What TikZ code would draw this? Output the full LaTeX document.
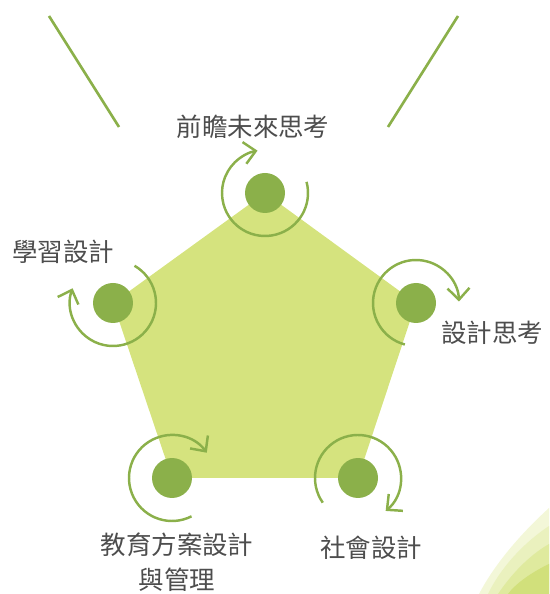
\documentclass[tikz,border=0pt]{standalone}
\usepackage{fontspec}
\newfontfamily\cjk{Noto Sans CJK TC}
\usetikzlibrary{arrows.meta, calc, positioning}

\definecolor{lime}{HTML}{D5E37E}
\definecolor{leaf}{HTML}{8BB04A}
\definecolor{txtgray}{HTML}{4D4D4D}

\begin{document}
\begin{tikzpicture}[x=0.02cm, y=0.02cm,
   dot/.style = {circle, fill=leaf, minimum size=0.8cm, inner sep=0pt},
   cyc/.style = {draw=leaf, line width=1.4pt, -{Straight Barb[length=2.3mm, width=4.4mm]}},
   lbl/.style = {font=\cjk\fontsize{14.5}{18}\selectfont, text=txtgray, align=center},
   deco/.style = {draw=leaf, line width=1.5pt}]
   \useasboundingbox (0,0) rectangle (549,594);

   % corner wedges
   \fill[lime!30] (549,86) .. controls (515,55) and (492,25) .. (479,0) -- (549,0) -- cycle;
   \fill[lime!50] (549,68) .. controls (522,50) and (500,25) .. (488,0) -- (549,0) -- cycle;
   \fill[lime!75] (549,50) .. controls (528,38) and (510,18) .. (498,0) -- (549,0) -- cycle;
   \fill[lime!95!leaf] (549,30) .. controls (532,22) and (515,10) .. (508,0) -- (549,0) -- cycle;

   % top lines
   \coordinate (la) at (49,578);
   \coordinate (lb) at (119,467);
   \coordinate (ra) at (458,578);
   \coordinate (rb) at (388,467);
   \draw[deco] (la) -- (lb);
   \draw[deco] (ra) -- (rb);

   % pentagon
   \coordinate (ptop)   at (265,401);
   \coordinate (pleft)  at (113,291);
   \coordinate (pright) at (416,291);
   \coordinate (pbl)    at (172,116);
   \coordinate (pbr)    at (358,116);
   \fill[lime] (ptop) -- (pright) -- (pbr) -- (pbl) -- (pleft) -- cycle;

   % dots
   \node[dot] (top)   at (ptop)   {};
   \node[dot] (left)  at (pleft)  {};
   \node[dot] (right) at (pright) {};
   \node[dot] (bl)    at (pbl)    {};
   \node[dot] (br)    at (pbr)    {};

   % turning arrows
   \draw[cyc] ($(top)+(15:43)$)    arc[start angle=15,  end angle=-260, radius=43];
   \draw[cyc] ($(left)+(60:43)$)   arc[start angle=60,  end angle=-200, radius=43];
   \draw[cyc] ($(right)+(255:43)$) arc[start angle=255, end angle=2,    radius=43];
   \draw[cyc] ($(bl)+(-63:43)$)    arc[start angle=-63, end angle=-324, radius=43];
   \draw[cyc] ($(br)+(215:43)$)    arc[start angle=215, end angle=-50,  radius=43];

   % labels
   \node[lbl] (ltop)   at (253,467) {前瞻未來思考};
   \node[lbl] (lleft)  at (63,342)  {學習設計};
   \node[lbl] (lright) at (492,261) {設計思考};
   \node[lbl] (lbl)    at (177,32)  {教育方案設計\\[2pt]與管理};
   \node[lbl] (lbr)    at (371,46)  {社會設計};
\end{tikzpicture}
\end{document}
